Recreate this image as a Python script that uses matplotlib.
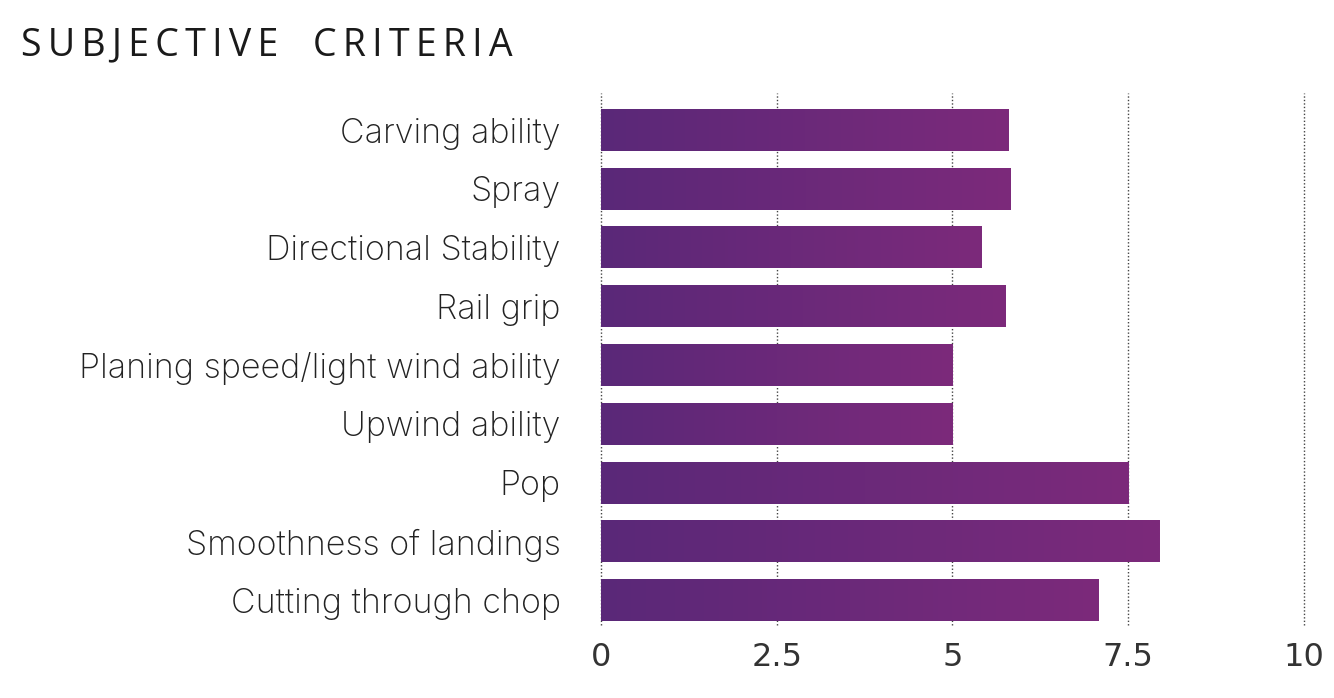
import numpy as np
import matplotlib.pyplot as plt
from matplotlib.colors import LinearSegmentedColormap

criteria = [
    "Carving ability",
    "Spray",
    "Directional Stability",
    "Rail grip",
    "Planing speed/light wind ability",
    "Upwind ability",
    "Pop",
    "Smoothness of landings",
    "Cutting through chop",
]
scores = [5.8, 5.82, 5.41, 5.75, 5.0, 5.0, 7.51, 7.95, 7.07]
x_ticks = [0, 2.5, 5, 7.5, 10]
x_tick_labels = ["0", "2.5", "5", "7.5", "10"]

bar_cmap = LinearSegmentedColormap.from_list("purple", ["#5a2878", "#7c2a7b"])
label_font = ["Inter", "Open Sans", "DejaVu Sans"]
tick_font = ["Liberation Sans Narrow", "DejaVu Sans"]

fig = plt.figure(figsize=(13.34, 6.98), dpi=100)
ax = fig.add_axes([0.4505, 0.1046, 0.5270, 0.7622])

bar_h = 0.71
grad = np.linspace(0, 1, 256).reshape(1, -1)
for i, val in enumerate(scores):
    ax.imshow(grad, cmap=bar_cmap, aspect="auto", zorder=2,
              extent=[0, val, i + bar_h / 2, i - bar_h / 2])

ax.set_xlim(0, 10)
ax.set_ylim(8.42, -0.63)
ax.set_xticks(x_ticks)
ax.set_xticklabels(x_tick_labels, fontsize=23, fontfamily=tick_font,
                   color="#333333")
ax.set_yticks(range(len(criteria)))
ax.set_yticklabels(criteria, fontsize=24.5, fontfamily=label_font,
                   fontweight="light", color="#222222")
ax.tick_params(axis="both", length=0)
ax.tick_params(axis="x", pad=12)
ax.tick_params(axis="y", pad=29)
for s in ax.spines.values():
    s.set_visible(False)
ax.grid(axis="x", linestyle=(0, (1, 1.5)), color="#444444", linewidth=1, zorder=0)
ax.set_axisbelow(True)
for gl in ax.get_xgridlines():
    gl.set_clip_on(False)

# letter-spaced title
title = "\u2006".join("SUBJECTIVE CRITERIA").replace(" ", "\u2006 \u2006")
fig.text(0.016, 0.935, title, fontsize=27, fontfamily=["Open Sans", "DejaVu Sans"],
         color="#1a1a1a", ha="left", va="center")

fig.savefig("out.png", dpi=100)
